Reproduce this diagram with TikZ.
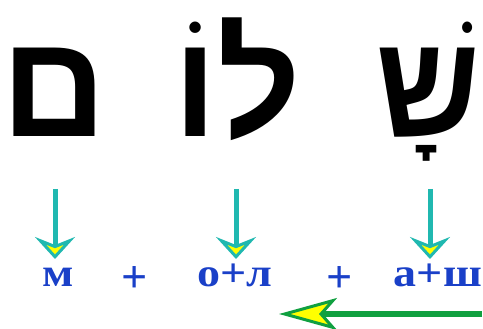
\documentclass[tikz,border=0pt]{standalone}
\usepackage{fontspec}
\usetikzlibrary{arrows.meta}
\TeXXeTstate=1
\newfontfamily\hebfont[Script=Hebrew]{Liberation Sans}
\newfontfamily\rufont{Liberation Serif}
\definecolor{tealc}{HTML}{20B8B0}
\definecolor{bluec}{HTML}{1A40C8}
\definecolor{greenc}{HTML}{10A040}
\definecolor{yelc}{HTML}{FFFF00}
\tikzset{
  heb/.style={inner sep=0pt, anchor=base, font=\hebfont\bfseries\fontsize{146}{146}\selectfont},
  ru/.style={inner sep=0pt, text=bluec, xscale=1.15, font=\rufont\bfseries\fontsize{40}{40}\selectfont, anchor=base},
  plus/.style={inner sep=0pt, text=bluec, font=\rufont\bfseries\fontsize{46}{46}\selectfont, anchor=center},
  downarrow/.style={draw=tealc, line width=5pt,
    -{Stealth[length=22pt,width=40pt,inset=8pt,fill=yelc,line width=3pt]}},
  leftarrow/.style={draw=greenc, line width=6pt,
    -{Stealth[length=58pt,width=32pt,inset=14pt,fill=yelc,line width=3pt]}}
}
\begin{document}
\begin{tikzpicture}[x=1pt,y=-1pt]
\useasboundingbox (0,0) rectangle (483,329);
\node[heb] (mem) at (54,137) {\beginR ם\endR};
\node[heb] (lamed) at (237,137) {\beginR לוֹ\endR};
\node[heb, xscale=0.88] (shin) at (428,137) {\beginR שָׁ\endR};
\node[ru] (m) at (58,287) {м};
\node[plus] (p1) at (135,280) {+};
\node[ru] (ol) at (235,287) {о+л};
\node[plus] (p2) at (340,280) {+};
\node[ru] (ash) at (438,287) {а+ш};
\coordinate (a1s) at (55,189);
\coordinate (a2s) at (236,189);
\coordinate (a3s) at (430,189);
\draw[downarrow] (a1s) -- (55,259);
\draw[downarrow] (a2s) -- (236,259);
\draw[downarrow] (a3s) -- (430,259);
\coordinate (gs) at (482,314);
\coordinate (ge) at (279,314);
\draw[leftarrow] (gs) -- (ge);
\end{tikzpicture}
\end{document}
